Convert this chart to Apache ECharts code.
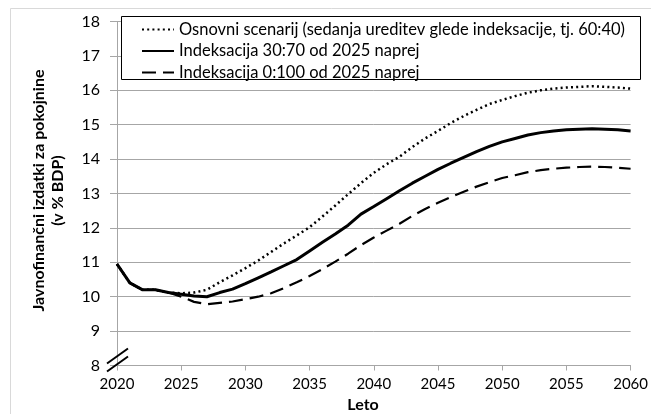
<!DOCTYPE html>
<html>
<head>
<meta charset="utf-8">
<script src="https://cdn.jsdelivr.net/npm/echarts@6/dist/echarts.min.js"></script>
<style>html,body{margin:0;padding:0;background:#fff;}#c{width:651px;height:414px;}</style>
</head>
<body>
<div id="c"></div>
<script>
const years = [2020,2021,2022,2023,2024,2025,2026,2027,2028,2029,2030,2031,2032,2033,2034,2035,2036,2037,2038,2039,2040,2041,2042,2043,2044,2045,2046,2047,2048,2049,2050,2051,2052,2053,2054,2055,2056,2057,2058,2059,2060];
const baseline = [10.95,10.4,10.2,10.2,10.12,10.1,10.12,10.2,10.42,10.62,10.83,11.05,11.3,11.55,11.78,12.02,12.33,12.65,12.98,13.3,13.6,13.85,14.07,14.35,14.6,14.82,15.05,15.25,15.43,15.6,15.72,15.83,15.93,16.0,16.05,16.08,16.1,16.12,16.1,16.08,16.05];
const idx3070 = [10.95,10.4,10.2,10.2,10.12,10.07,10.02,10.0,10.12,10.22,10.38,10.55,10.72,10.9,11.08,11.33,11.58,11.82,12.08,12.4,12.62,12.85,13.08,13.3,13.5,13.7,13.88,14.05,14.22,14.37,14.5,14.6,14.7,14.77,14.82,14.85,14.87,14.88,14.87,14.85,14.82];
const idx0100 = [10.95,10.4,10.2,10.2,10.12,10.0,9.85,9.78,9.82,9.86,9.93,10.0,10.1,10.25,10.42,10.6,10.8,11.02,11.25,11.5,11.72,11.92,12.12,12.35,12.55,12.73,12.9,13.05,13.2,13.33,13.45,13.53,13.62,13.68,13.72,13.75,13.77,13.78,13.77,13.75,13.72];
const names = ['Osnovni scenarij (sedanja ureditev glede indeksacije, tj. 60:40)','Indeksacija 30:70 od 2025 naprej','Indeksacija 0:100 od 2025 naprej'];
const yTitle = ['Javnofinančni izdatki za pokojnine','(v % BDP)'];
const xTitle = 'Leto';

const FONT = 'Lato, "Noto Sans", sans-serif';
const chart = echarts.init(document.getElementById('c'), null, {renderer:'canvas'});
const pair = arr => years.map((y,i)=>[y, arr[i]]);
const grid = {left:117, right:16, top:21.5, bottom:48.5};
chart.setOption({
  animation:false,
  backgroundColor:'#fff',
  grid: grid,
  legend: {
    orient:'vertical', left:136, top:16, z:10,
    itemWidth:32, itemHeight:14, itemGap:4.5,
    itemStyle:{opacity:0},
    textStyle:{fontFamily:FONT, fontSize:16.5, color:'#000', padding:[0,0,0,0]},
    data: names
  },
  xAxis: {
    type:'value', min:2020, max:2060, interval:5,
    axisLine:{lineStyle:{color:'#a6a6a6', width:1}},
    axisTick:{show:true, length:5, lineStyle:{color:'#a6a6a6'}},
    axisLabel:{fontFamily:FONT, fontSize:15, color:'#000', margin:11, formatter: v=>String(v)},
    splitLine:{show:false}
  },
  yAxis: {
    type:'value', min:8, max:18, interval:1,
    axisLine:{show:true, lineStyle:{color:'#a6a6a6', width:1}},
    axisTick:{show:true, length:7, lineStyle:{color:'#a6a6a6'}},
    axisLabel:{fontFamily:FONT, fontSize:16, color:'#000', margin:17},
    splitLine:{show:true, lineStyle:{color:'#a6a6a6', width:1}}
  },
  series: [
    {name:names[0], type:'line', data:pair(baseline), symbol:'none', smooth:false, z:3,
     lineStyle:{color:'#000', width:2.5, type:[2,3.2]}, itemStyle:{color:'#000'}},
    {name:names[1], type:'line', data:pair(idx3070), symbol:'none', smooth:false, z:4,
     lineStyle:{color:'#000', width:3}, itemStyle:{color:'#000'}},
    {name:names[2], type:'line', data:pair(idx0100), symbol:'none', smooth:false, z:2,
     lineStyle:{color:'#000', width:2.2, type:[14,7]}, itemStyle:{color:'#000'}}
  ]
});
const p0 = chart.convertToPixel({gridIndex:0}, [2020, 8]);
const pMid = chart.convertToPixel({gridIndex:0}, [2040, 13]);
chart.setOption({
  graphic: [
    {type:'rect', shape:{x:10.5, y:8.5, width:700, height:500}, style:{fill:null, stroke:'#d9d9d9', lineWidth:1}, z:0, silent:true},
    {type:'rect', shape:{x:121.5, y:16.5, width:519, height:63}, style:{fill:'#fff', stroke:'#000', lineWidth:1}, z:5, silent:true},
    {type:'text', x:48, y:pMid[1]-3, rotation:Math.PI/2, z:6,
     style:{text: yTitle.join('\n'), font:'bold 16px '+FONT, fill:'#000', align:'center', verticalAlign:'middle', lineHeight:19}},
    {type:'text', x:363, y:405, z:6,
     style:{text: xTitle, font:'bold 16px '+FONT, fill:'#000', align:'center', verticalAlign:'middle'}},
    {type:'line', shape:{x1:p0[0]-10, y1:p0[1]-2, x2:p0[0]+11, y2:p0[1]-17}, style:{stroke:'#000', lineWidth:2}, z:6},
    {type:'line', shape:{x1:p0[0]-10, y1:p0[1]+6, x2:p0[0]+11, y2:p0[1]-9}, style:{stroke:'#000', lineWidth:2}, z:6}
  ]
});
</script>
</body>
</html>
